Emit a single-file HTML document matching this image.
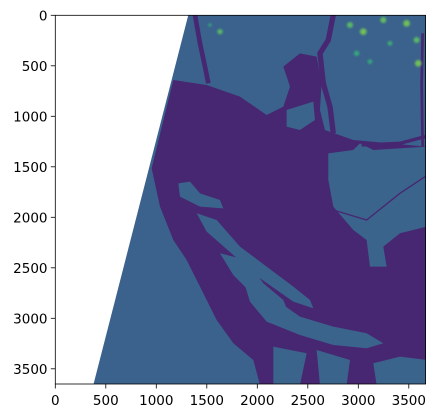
<!DOCTYPE html>
<html><head><meta charset="utf-8"><style>
body{margin:0;background:#fff;width:436px;height:418px;overflow:hidden}
svg{display:block;font-family:"DejaVu Sans","Liberation Sans",sans-serif}
</style></head><body>
<svg width="436" height="418">
<defs>
<clipPath id="c"><rect x="55.3" y="15.3" width="370.3" height="368.7"/></clipPath>
<filter id="b"><feGaussianBlur stdDeviation="3"/></filter>
</defs>
<g clip-path="url(#c)">
<g transform="scale(0.3333)">
<polygon fill="#3b628c" points="565,45 1280,45 1280,1155 280,1155"/>
<polygon fill="#472771" points="520,240 620,255 720,290 800,345 850,320 870,260 850,200 900,160 950,170 965,250 960,330 975,390 1060,420 1280,440 1280,1155 780,1155 760,1080 700,1030 650,960 600,860 560,780 520,720 480,620 455,505"/>
<g fill="#3b648d">
<polygon points="535,550 570,545 600,580 660,600 670,625 600,620 540,590"/>
<polygon points="590,640 650,660 720,740 800,800 880,860 930,900 940,925 880,905 780,835 700,765 620,695"/>
<polygon points="660,760 740,780 790,850 850,900 870,950 820,945 760,885 700,825"/>
<polygon points="730,840 800,880 900,950 1000,980 1100,1000 1150,1030 1100,1045 1000,1035 900,1005 800,965 750,905"/>
<polygon points="820,1040 920,1060 900,1155 820,1155"/>
<polygon points="950,1050 1050,1080 1040,1155 960,1155"/>
<polygon points="1120,1090 1200,1070 1280,1080 1280,1155 1130,1155"/>
<polygon points="860,330 940,305 945,360 900,390 860,380"/>
<polygon points="985,460 1060,450 1080,430 1120,450 1280,440 1280,680 1200,700 1150,740 1160,800 1110,800 1100,720 1060,690 1000,620 985,540"/>
</g>
<g fill="none" stroke="#472771">
<polyline stroke-width="16" points="1000,45 985,120 960,160 970,250 990,320 1000,400"/>
<polyline stroke-width="14" points="585,45 600,130 615,200 625,250"/>
<polyline stroke-width="10" points="1085,435 1200,430 1275,410"/>
<polyline stroke-width="8" points="1268,100 1265,250 1268,440"/>
<polyline stroke-width="4" points="1000,630 1100,660 1200,580 1275,530"/>
</g>
<g filter="url(#b)" opacity="0.85">
<circle cx="1050" cy="75" r="9" fill="#5ec962"/>
<circle cx="1090" cy="95" r="10" fill="#7ad151"/>
<circle cx="1150" cy="60" r="9" fill="#6ccd5a"/>
<circle cx="1220" cy="70" r="10" fill="#7ad151"/>
<circle cx="1250" cy="120" r="9" fill="#5ec962"/>
<circle cx="1255" cy="190" r="10" fill="#7ad151"/>
<circle cx="1070" cy="160" r="8" fill="#35b779"/>
<circle cx="1110" cy="185" r="7" fill="#35b779"/>
<circle cx="1170" cy="130" r="7" fill="#3fbc73"/>
<circle cx="660" cy="95" r="8" fill="#5ec962"/>
<circle cx="630" cy="75" r="5" fill="#35b779"/>
</g>
</g>
</g>
<rect x="55.3" y="15.3" width="370.3" height="368.7" fill="none" stroke="#000" stroke-width="0.8"/>
<g id="xt" font-size="13.5" text-anchor="middle"></g>
<g id="yt" font-size="13.5" text-anchor="end"></g>
<script>
const xTicks=[0,500,1000,1500,2000,2500,3000,3500];
const yTicks=[0,500,1000,1500,2000,2500,3000,3500];
const x0=55.3,y0=15.3,k=0.101;
const ns='http://www.w3.org/2000/svg';
const xt=document.getElementById('xt'),yt=document.getElementById('yt');
xTicks.forEach(v=>{const x=x0+v*k;
const l=document.createElementNS(ns,'line');l.setAttribute('x1',x);l.setAttribute('x2',x);l.setAttribute('y1',384);l.setAttribute('y2',388.5);l.setAttribute('stroke','#000');l.setAttribute('stroke-width','0.8');


xt.appendChild(l);
const t=document.createElementNS(ns,'text');t.setAttribute('x',x);t.setAttribute('y',405);t.textContent=v;


xt.appendChild(t);});
yTicks.forEach(v=>{const y=y0+v*k;
const l=document.createElementNS(ns,'line');l.setAttribute('x1',50.8);l.setAttribute('x2',55.3);l.setAttribute('y1',y);l.setAttribute('y2',y);l.setAttribute('stroke','#000');l.setAttribute('stroke-width','0.8');


yt.appendChild(l);
const t=document.createElementNS(ns,'text');t.setAttribute('x',47.5);t.setAttribute('y',y+5);t.textContent=v;


yt.appendChild(t);});
</script>
</svg>
</body></html>
